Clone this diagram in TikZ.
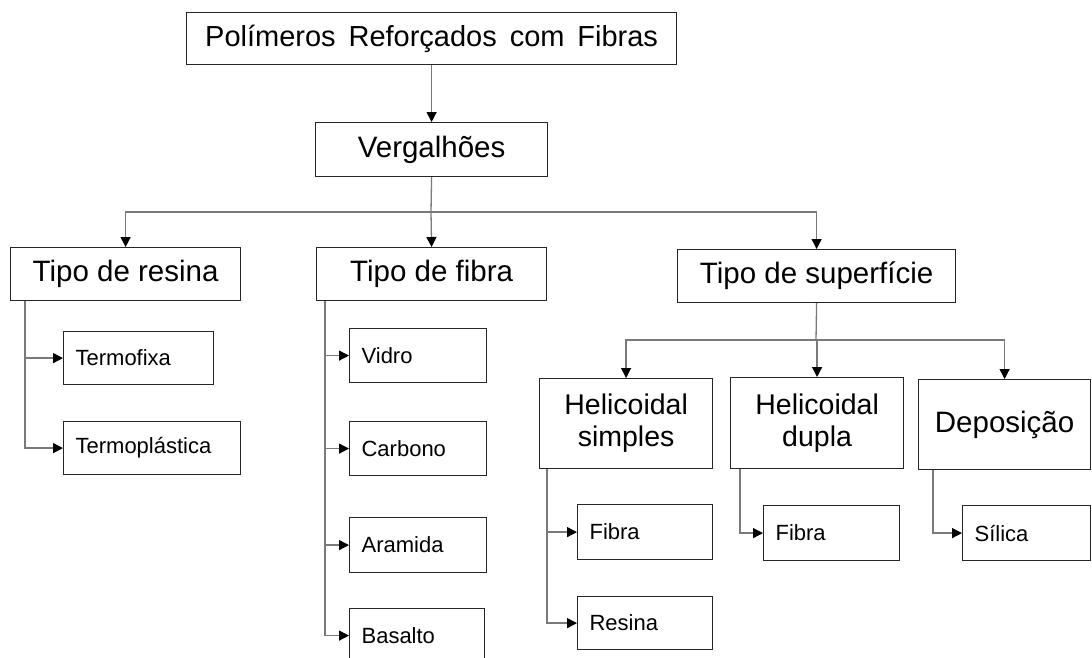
\documentclass[tikz,border=0pt]{standalone}
\usepackage{fontspec}
\setmainfont{Liberation Sans}
\newfontfamily\topfont[WordSpace=1.6]{Liberation Sans}
\usetikzlibrary{arrows.meta}
\definecolor{boxc}{HTML}{262626}
\definecolor{linec}{HTML}{7a7a7a}
\begin{document}
\begin{tikzpicture}[x=1pt,y=-1pt,
  box/.style={draw=boxc, line width=1.2pt, fill=white, inner sep=0pt, anchor=north west, align=center},
  bigtxt/.style={font=\fontsize{29.5}{32}\selectfont},
  midtxt/.style={font=\fontsize{28.5}{32}\selectfont},
  small/.style={box, font=\fontsize{22}{24}\selectfont, inner xsep=12pt, align=left},
  conn/.style={draw=linec, line width=1.3pt},
  arr/.style={conn, -{Triangle[length=10pt,width=10pt,color=black]}},
]
\useasboundingbox[fill=white] (0,0) rectangle (1092,657);

% main boxes
\node[box, font=\topfont\fontsize{29}{32}\selectfont, minimum width=490pt, minimum height=52pt] (top) at (186,12) {Polímeros Reforçados com Fibras};
\node[box, bigtxt, minimum width=232pt, minimum height=54pt] (verg) at (315,122) {Vergalhões};
\node[box, bigtxt, minimum width=230pt, minimum height=53pt] (resina) at (10,247) {Tipo de resina};
\node[box, bigtxt, minimum width=230pt, minimum height=53pt] (fibra) at (316,247) {Tipo de fibra};
\node[box, bigtxt, minimum width=278pt, minimum height=53pt] (sup) at (677,249) {Tipo de superfície};
\node[box, midtxt, minimum width=173pt, minimum height=90pt] (hs) at (539,378) {Helicoidal\\simples};
\node[box, midtxt, minimum width=173pt, minimum height=91pt] (hd) at (730,377) {Helicoidal\\dupla};
\node[box, bigtxt, minimum width=172pt, minimum height=90pt] (dep) at (918,379) {Deposição};

% small boxes
\node[small, text width=126pt, minimum height=53pt] (termofixa) at (63,331) {Termofixa};
\node[small, text width=153pt, minimum height=53pt] (termoplastica) at (63,421) {Termoplástica};
\node[small, text width=113pt, minimum height=54pt] (vidro) at (349,328) {Vidro};
\node[small, text width=113pt, minimum height=54pt] (carbono) at (349,421) {Carbono};
\node[small, text width=113pt, minimum height=55pt] (aramida) at (349,517) {Aramida};
\node[small, text width=111pt, minimum height=54pt] (basalto) at (349,608) {Basalto};
\node[small, text width=111pt, minimum height=55pt] (hsfibra) at (577,504) {Fibra};
\node[small, text width=111pt, minimum height=53pt] (hsresina) at (577,596) {Resina};
\node[small, text width=112pt, minimum height=55pt] (hdfibra) at (763,505) {Fibra};
\node[small, text width=104pt, minimum height=55pt] (silica) at (962,505) {Sílica};

% connectors
\coordinate (j1) at (431,212);
\coordinate (j2) at (816,340);
\draw[arr] (top.south) -- (verg.north);
\draw[conn] (verg.south) -- (j1);
\draw[arr] (j1) -| (resina.north);
\draw[arr] (j1) -- (fibra.north);
\draw[arr] (j1) -| (sup.north);
\draw[conn] (sup.south) -- (j2);
\draw[arr] (j2) -| (hs.north);
\draw[arr] (j2) -| (hd.north);
\draw[arr] (j2) -| (dep.north);

\draw[arr] ([xshift=15pt]resina.south west) |- (termofixa.west);
\draw[arr] ([xshift=15pt]resina.south west) |- (termoplastica.west);
\draw[arr] ([xshift=9pt]fibra.south west) |- (vidro.west);
\draw[arr] ([xshift=9pt]fibra.south west) |- (carbono.west);
\draw[arr] ([xshift=9pt]fibra.south west) |- (aramida.west);
\draw[arr] ([xshift=9pt]fibra.south west) |- (basalto.west);
\draw[arr] ([xshift=8pt]hs.south west) |- (hsfibra.west);
\draw[arr] ([xshift=8pt]hs.south west) |- (hsresina.west);
\draw[arr] ([xshift=10pt]hd.south west) |- (hdfibra.west);
\draw[arr] ([xshift=15pt]dep.south west) |- (silica.west);
\end{tikzpicture}
\end{document}
